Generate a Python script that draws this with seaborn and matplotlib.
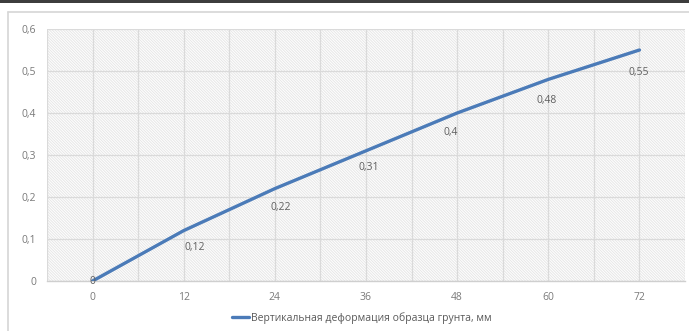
import matplotlib
matplotlib.use("Agg")
import matplotlib.pyplot as plt
from matplotlib.patches import Rectangle
from matplotlib.lines import Line2D
import numpy as np
import pandas as pd
import seaborn as sns

# Soil sample test: time (h) vs vertical deformation (mm)
hours = [0, 12, 24, 36, 48, 60, 72]
deformation = [0, 0.12, 0.22, 0.31, 0.40, 0.48, 0.55]
series_name = "Вертикальная деформация образца грунта, мм"
y_ticks = [0, 0.1, 0.2, 0.3, 0.4, 0.5, 0.6]

# label nudges in pixels (right, down) relative to each point
label_nudge = [(0, 1), (11, 17), (6, 19), (3, 17), (-6, 20), (-2, 21), (-1, 22)]

sns.set_theme(style="white")
plt.rcParams["font.family"] = ["Open Sans", "DejaVu Sans"]
plt.rcParams["hatch.linewidth"] = 0.7

DPI = 100
fig = plt.figure(figsize=(6.89, 3.31), dpi=DPI)
fig.patch.set_facecolor("white")

# window edge and chart frame
fig.add_artist(Rectangle((0, 1 - 2.5 / 331), 1, 2.5 / 331, transform=fig.transFigure,
                         facecolor="#3d3d3d", edgecolor="none"))
fig.add_artist(Line2D([7.5 / 689, 7.5 / 689], [0, 1 - 12 / 331], transform=fig.transFigure,
                      color="#d6d6d6", lw=1.2))
fig.add_artist(Line2D([7.5 / 689, 1], [1 - 12 / 331, 1 - 12 / 331], transform=fig.transFigure,
                      color="#d6d6d6", lw=1.2))

ax = fig.add_axes([47 / 689, 1 - 281 / 331, (685 - 47) / 689, (281 - 29) / 331])
ax.set_facecolor("none")

# hatched plot area
ax.add_patch(Rectangle((0, 0), 1, 1, transform=ax.transAxes, facecolor="white",
                       edgecolor="#e6e6e6", hatch="\\" * 12, lw=0, zorder=0))

df = pd.DataFrame({"hours": hours, "deformation": deformation})
sns.lineplot(data=df, x="hours", y="deformation", ax=ax, color="#4b7bb8",
             linewidth=2.4, label=series_name, zorder=3, legend=False)

ax.set_xlim(-6, 78)
ax.set_ylim(0, 0.6)
ax.set_xticks(np.arange(-6, 79, 6), minor=True)
ax.set_xticks(hours)
ax.set_yticks(y_ticks)
ax.set_xticklabels([str(h) for h in hours])
ax.set_yticklabels([f"{v:g}".replace(".", ",") for v in y_ticks])
ax.grid(True, which="both", axis="x", color="#dadada", lw=0.9, zorder=1)
ax.grid(True, which="major", axis="y", color="#dadada", lw=0.9, zorder=1)
ax.set_axisbelow(True)
for s in ["left", "top", "right"]:
    ax.spines[s].set_visible(False)
ax.spines["bottom"].set_color("#cfcfcf")
ax.spines["bottom"].set_linewidth(1.0)
ax.tick_params(axis="both", which="both", length=0, labelsize=7.5, labelcolor="#7a7a7a")
ax.tick_params(axis="x", pad=8)
ax.tick_params(axis="y", pad=8)
ax.set_xlabel("")
ax.set_ylabel("")

for x, y, (dx, dy) in zip(hours, deformation, label_nudge):
    ax.annotate(f"{y:g}".replace(".", ","), (x, y), xytext=(dx * 72 / DPI, -dy * 72 / DPI),
                textcoords="offset points", ha="center", va="center",
                fontsize=7.5, color="#5f5f5f", zorder=4)

handle = Line2D([], [], color="#4b7bb8", lw=2.4)
fig.legend([handle], [series_name], loc="center", bbox_to_anchor=(362 / 689, 1 - 318 / 331),
           frameon=False, fontsize=7.5, handlelength=1.6, handletextpad=0.25,
           labelcolor="#595959")

fig.savefig("out.png", dpi=DPI, facecolor="white")
